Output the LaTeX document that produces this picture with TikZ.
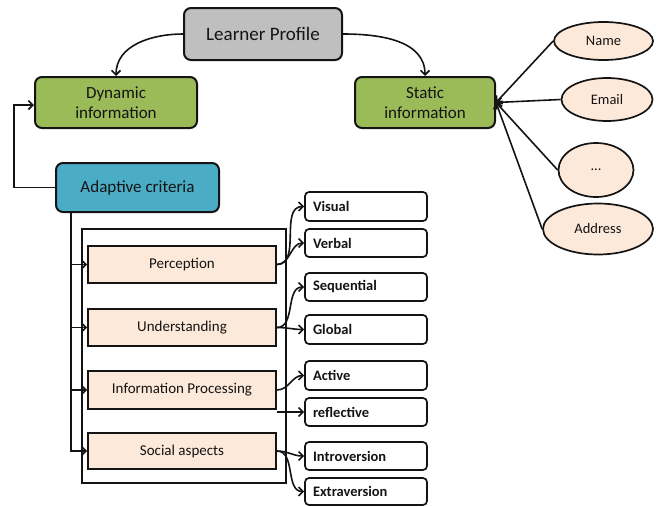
\documentclass[tikz,border=0pt]{standalone}
\usepackage{fontspec}
\setmainfont{Carlito}
\usetikzlibrary{arrows.meta,shapes.geometric}
\definecolor{lpgray}{HTML}{BFBFBF}
\definecolor{dgreen}{HTML}{9BBB59}
\definecolor{cblue}{HTML}{4BACC6}
\definecolor{peach}{HTML}{FDE9D9}
\definecolor{ink}{HTML}{141414}
\tikzset{
  mainbox/.style={draw=ink, line width=2pt, rounded corners=7pt, align=center, text=ink,
    font=\fontsize{17}{20}\selectfont, inner sep=0pt},
  critbox/.style={draw=ink, line width=1.7pt, fill=peach, minimum width=188pt, text=ink,
    font=\fontsize{15}{18}\selectfont, inner sep=0pt},
  leafbox/.style={draw=ink, line width=1.7pt, fill=white, rounded corners=4pt, text width=106pt,
    inner xsep=8pt, inner ysep=0pt, align=left, text=ink, font=\bfseries\fontsize{14.5}{17}\selectfont},
  attr/.style={ellipse, draw=ink, line width=1.7pt, fill=peach, text=ink, inner sep=0pt,
    font=\fontsize{14.5}{17}\selectfont},
  arr/.style={draw=ink, line width=1.6pt, -{Straight Barb[length=4.5pt,width=9pt]}},
  ln/.style={draw=ink, line width=1.6pt}
}
\begin{document}
\begin{tikzpicture}[x=1pt,y=-1pt]
\useasboundingbox (0,0) rectangle (660,506);
% top level
\node[mainbox, fill=lpgray, minimum width=158pt, minimum height=52pt, font=\fontsize{19}{23}\selectfont] (lp) at (263,34) {Learner Profile};
\node[mainbox, fill=dgreen, minimum width=162pt, minimum height=51pt] (dyn) at (116,102.5) {Dynamic\\information};
\node[mainbox, fill=dgreen, minimum width=140pt, minimum height=51pt] (stat) at (425,102.5) {Static\\information};
\node[mainbox, fill=cblue, minimum width=163pt, minimum height=49pt] (adapt) at (137.5,187.5) {Adaptive criteria};
% attributes
\node[attr, minimum width=99pt, minimum height=38pt] (name) at (603.5,41) {Name};
\node[attr, minimum width=91pt, minimum height=43pt] (email) at (607,99.5) {Email};
\node[attr, minimum width=75pt, minimum height=54pt] (dots) at (596,170) {...};
\node[attr, minimum width=110pt, minimum height=51pt] (addr) at (598,229) {Address};
% container
\node[draw=ink, line width=1.7pt, minimum width=204pt, minimum height=254pt, inner sep=0pt] (grp) at (184,356) {};
% criteria
\node[critbox, minimum height=37pt] (perc) at (182,264.5) {Perception};
\node[critbox, minimum height=37pt] (und) at (182,327.5) {Understanding};
\node[critbox, minimum height=38pt] (ip) at (182,390) {Information Processing};
\node[critbox, minimum height=36pt] (soc) at (182,451) {Social aspects};
% leaves
\node[leafbox, minimum height=29pt] (vis) at (366,206.5) {Visual};
\node[leafbox, minimum height=28pt] (verb) at (366,243) {Verbal};
\node[leafbox, minimum height=28pt] (seq) at (366,287) {Sequential};
\node[leafbox, minimum height=29pt] (glob) at (366,329.5) {Global};
\node[leafbox, minimum height=29pt] (act) at (366,375.5) {Active};
\node[leafbox, minimum height=28pt] (refl) at (366,412) {reflective};
\node[leafbox, minimum height=28pt] (intro) at (366,456) {Introversion};
\node[leafbox, minimum height=27pt] (extra) at (366,491.5) {Extraversion};
% connectors top
\draw[arr] (lp.west) to[out=180,in=90] (dyn.north);
\draw[arr] (lp.east) to[out=0,in=90] (stat.north);
\draw[arr] (adapt.west) -- ++(-41,0) |- ([yshift=-2.5pt]dyn.west);
\draw[arr] (name.west) -- (stat.east);
\draw[arr] (email.west) -- (stat.east);
\draw[arr] (dots.west) -- (stat.east);
\draw[arr] (addr.west) -- (stat.east);
% spine
\coordinate (sp) at ([xshift=16pt]adapt.south west);
\draw[arr] (sp) |- (soc.west);
\draw[arr] (sp |- perc.west) -- (perc.west);
\draw[arr] (sp |- und.west) -- (und.west);
\draw[arr] (sp |- ip.west) -- (ip.west);
% leaves connectors
\draw[arr] (perc.east) to[out=0,in=180] (vis.west);
\draw[arr] (perc.east) to[out=0,in=180] (verb.west);
\draw[arr] (und.east) to[out=0,in=180] (seq.west);
\draw[arr] (und.east) to[out=0,in=180] (glob.west);
\draw[arr] (ip.east) to[out=0,in=180] (act.west);
\draw[arr] (ip.south east |- refl.west) -- (refl.west);
\draw[arr] (soc.east) to[out=0,in=180] (intro.west);
\draw[arr] (soc.east) to[out=0,in=180] (extra.west);
\end{tikzpicture}
\end{document}
